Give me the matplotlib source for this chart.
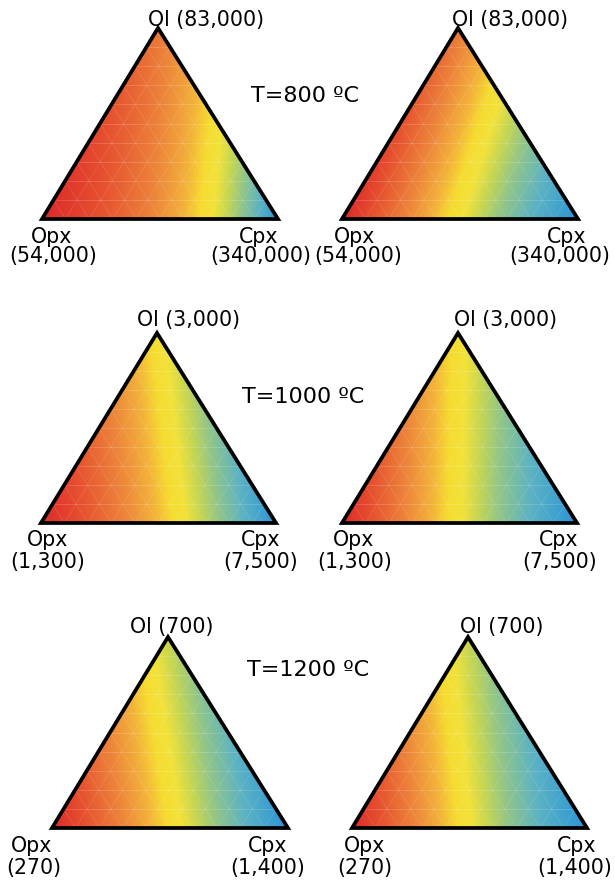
import numpy as np
import matplotlib.pyplot as plt
from matplotlib.colors import LinearSegmentedColormap
from matplotlib.patches import Polygon

plt.rcParams['font.family'] = ['DejaVu Sans']

# vertex values per temperature
temps = [800, 1000, 1200]
ol_vals = [83000, 3000, 700]
opx_vals = [54000, 1300, 270]
cpx_vals = [340000, 7500, 1400]
# mixing exponent (power mean) used for left / right diagram
left_p = [-1.0, -0.5, -0.2]
right_p = [0.0, 0.0, 0.0]

cmap = LinearSegmentedColormap.from_list('rb', [
    (0.00, '#dd2a2a'), (0.12, '#e6502f'), (0.27, '#ed863b'), (0.38, '#f3b33a'),
    (0.45, '#f6dc30'), (0.51, '#f2e23a'), (0.58, '#c6d653'), (0.67, '#91c58a'),
    (0.80, '#5db3c3'), (1.00, '#2a95d6')])

fig = plt.figure(figsize=(6.15, 8.82), dpi=100)
ax = fig.add_axes([0, 0, 1, 1])
ax.set_xlim(0, 615)
ax.set_ylim(882, 0)
ax.axis('off')

# triangle geometry in pixels: (x_opx, x_cpx, x_apex, y_apex, y_base)
geo_left = [(42, 278, 158, 28, 219), (41, 276, 157, 333, 523), (52, 288, 168, 637, 828)]
geo_right = [(342, 578, 458, 28, 219), (342, 577, 458, 333, 523), (352, 587, 468, 637, 828)]


def draw_tri(g, vals, p):
    x0, x1, xa, ya, yb = g
    vo, vx, vc = vals  # opx, cpx, ol
    xs = np.linspace(x0, x1, 400)
    ys = np.linspace(ya, yb, 400)
    X, Y = np.meshgrid(xs, ys)
    w_ol = (yb - Y) / (yb - ya)
    xl = x0 + (xa - x0) * w_ol
    xr = x1 + (xa - x1) * w_ol
    s = np.clip((X - xl) / np.maximum(xr - xl, 1e-9), 0, 1)
    w_cpx = (1 - w_ol) * s
    w_opx = (1 - w_ol) * (1 - s)
    if p == 0:
        m = np.exp(w_opx * np.log(vo) + w_cpx * np.log(vx) + w_ol * np.log(vc))
    else:
        m = (w_opx * vo ** p + w_cpx * vx ** p + w_ol * vc ** p) ** (1 / p)
    lo, hi = np.log10(min(vals)), np.log10(max(vals))
    t = (np.log10(m) - lo) / (hi - lo)
    im = ax.imshow(cmap(t), extent=(x0, x1, yb, ya), interpolation='bilinear', zorder=1)
    tri = Polygon([(x0, yb), (x1, yb), (xa, ya)], closed=True, transform=ax.transData)
    im.set_clip_path(tri)
    # faint ternary grid
    for k in range(1, 10):
        f = k / 10
        yl = yb - (yb - ya) * f
        ax.plot([x0 + (xa - x0) * f, x1 + (xa - x1) * f], [yl, yl], color='white', lw=0.6, alpha=0.18, zorder=2)
        ax.plot([x0 + (x1 - x0) * f, x1 + (xa - x1) * (1 - f)], [yb, yb - (yb - ya) * (1 - f)],
                color='white', lw=0.6, alpha=0.12, zorder=2)
        ax.plot([x0 + (x1 - x0) * f, x0 + (xa - x0) * f], [yb, yb - (yb - ya) * f],
                color='white', lw=0.6, alpha=0.12, zorder=2)
    ax.add_patch(Polygon([(x0, yb), (x1, yb), (xa, ya)], closed=True, fill=False,
                         edgecolor='black', lw=2.7, joinstyle='miter', zorder=3))


for i in range(3):
    vals = (opx_vals[i], cpx_vals[i], ol_vals[i])
    for g, p in ((geo_left[i], left_p[i]), (geo_right[i], right_p[i])):
        draw_tri(g, vals, p)

fs = 14.8
# label anchors: x centres and baselines, per row [left, right]
ol_x = [[206, 510], [189, 506], [172, 502]]
ol_y = [26, 326, 633]
opx_x = [[(52, 53), (355, 358)], [(48, 48), (354, 355)], [(32, 34), (365, 365)]]
cpx_x = [[(259, 261), (567, 560)], [(261, 261), (559, 560)], [(268, 268), (577, 575)]]
name_y = [243, 546, 852]
val_y = [262, 568, 874]
for i in range(3):
    for j in range(2):
        ax.text(ol_x[i][j], ol_y[i], f'Ol ({ol_vals[i]:,})', ha='center', va='baseline', fontsize=fs)
        ax.text(opx_x[i][j][0], name_y[i], 'Opx', ha='center', va='baseline', fontsize=fs)
        ax.text(opx_x[i][j][1], val_y[i], f'({opx_vals[i]:,})', ha='center', va='baseline', fontsize=fs)
        ax.text(cpx_x[i][j][0], name_y[i], 'Cpx', ha='center', va='baseline', fontsize=fs)
        ax.text(cpx_x[i][j][1], val_y[i], f'({cpx_vals[i]:,})', ha='center', va='baseline', fontsize=fs)

t_x = [305, 303, 308]
t_y = [102, 403, 676]
for x, y, T in zip(t_x, t_y, temps):
    ax.text(x, y, f'T={T} ºC', ha='center', va='baseline', fontsize=16)

fig.savefig('out.png', dpi=100)
